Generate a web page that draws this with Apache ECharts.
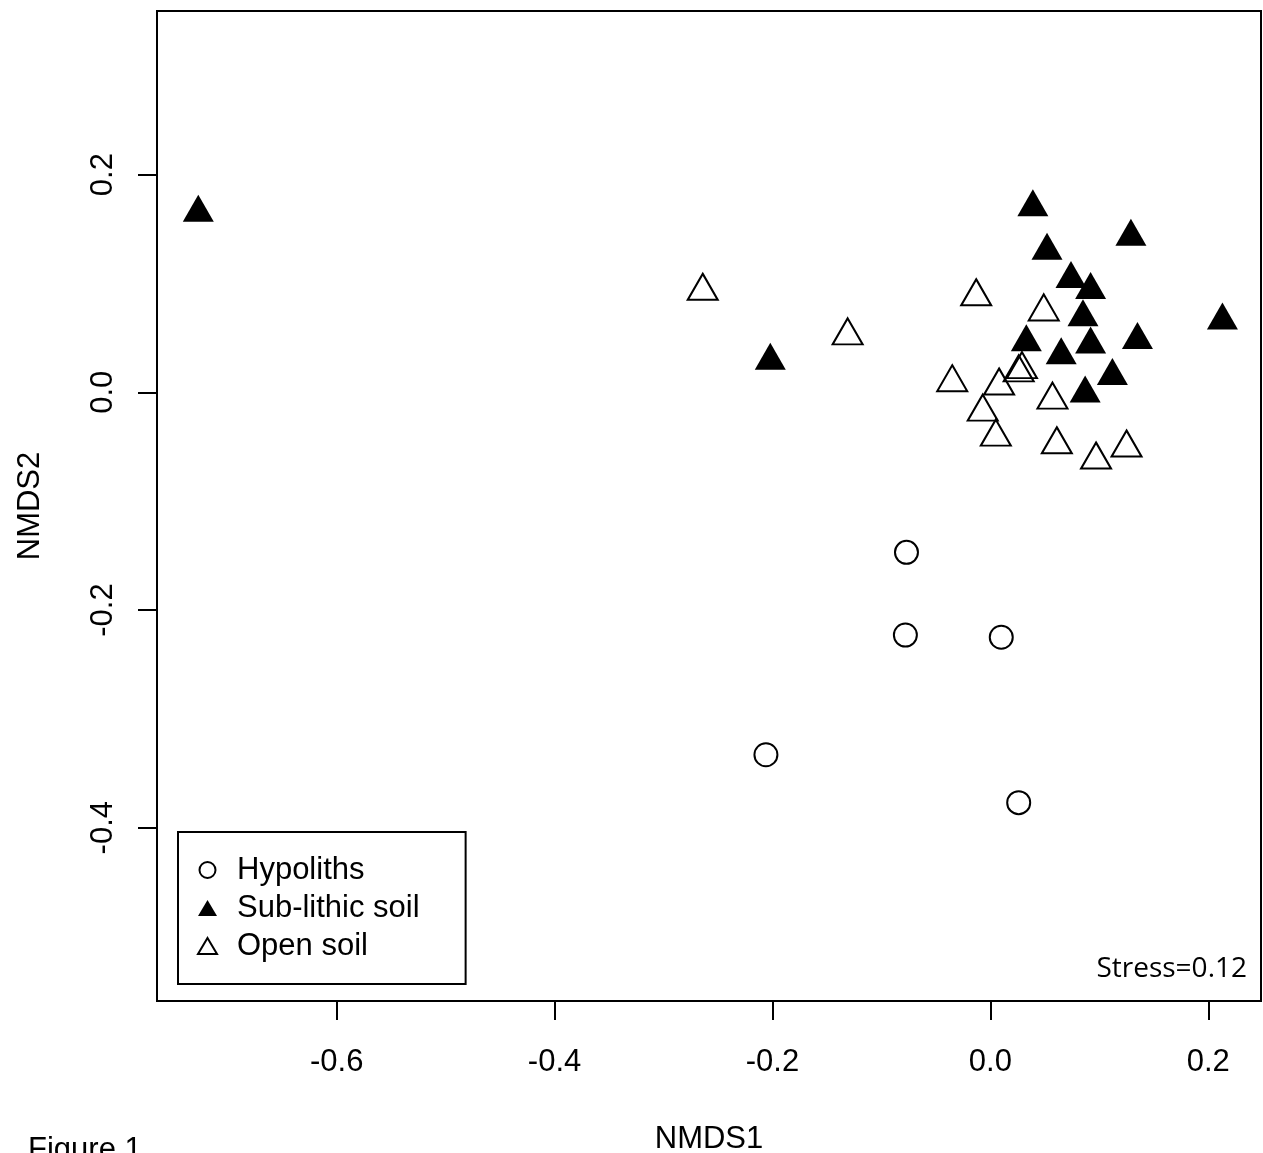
<!DOCTYPE html>
<html lang="en">
  <head>
    <meta charset="UTF-8" />
    <title>NMDS</title>
    <script src="https://cdn.jsdelivr.net/npm/echarts@6/dist/echarts.min.js"></script>
    <style>
      html, body { margin: 0; padding: 0; background: #fff; }
    </style>
  </head>
  <body>
    <div id="main" style="width: 1263px;height:1153px;"></div>
    <script type="text/javascript">
      // sample scores (NMDS1, NMDS2)
      var hypoX = [-0.077, -0.078, 0.010, -0.206, 0.026];
      var hypoY = [-0.147, -0.223, -0.225, -0.333, -0.377];

      var subX = [-0.727, -0.202, 0.039, 0.129, 0.052, 0.074, 0.092, 0.213, 0.085, 0.033, 0.092, 0.135, 0.065, 0.112, 0.087];
      var subY = [0.165, 0.029, 0.170, 0.143, 0.130, 0.104, 0.094, 0.066, 0.069, 0.046, 0.044, 0.048, 0.034, 0.015, -0.001];

      var openX = [-0.264, -0.131, -0.013, 0.049, -0.035, 0.008, 0.029, 0.026, 0.057, -0.007, 0.005, 0.061, 0.097, 0.125];
      var openY = [0.093, 0.052, 0.088, 0.074, 0.009, 0.006, 0.021, 0.018, -0.007, -0.018, -0.041, -0.048, -0.062, -0.051];

      var xTicks = [-0.6, -0.4, -0.2, 0.0, 0.2];
      var yTicks = [-0.4, -0.2, 0.0, 0.2];
      var groups = ["Hypoliths", "Sub-lithic soil", "Open soil"];

      function pairs(xs, ys) {
        return xs.map(function (x, i) { return [x, ys[i]]; });
      }

      var font = "Liberation Sans";
      var myChart = echarts.init(document.getElementById("main"));

      var option = {
        animation: false,
        backgroundColor: "#fff",
        grid: {
          left: 157, top: 11, width: 1104, height: 990,
          outerBoundsMode: "none", containLabel: false,
          show: true, borderColor: "#000", borderWidth: 2, backgroundColor: "transparent"
        },
        xAxis: {
          type: "value",
          min: -0.7649, max: 0.2484,
          name: "NMDS1", nameLocation: "middle", nameGap: 123,
          nameTextStyle: { fontFamily: font, fontSize: 31, color: "#000" },
          axisLine: { show: false, onZero: false },
          splitLine: { show: false },
          axisTick: { show: true, customValues: xTicks, length: 19, lineStyle: { color: "#000", width: 2 } },
          axisLabel: {
            customValues: xTicks, margin: 46,
            fontFamily: font, fontSize: 31, color: "#000",
            formatter: function (v) { return v.toFixed(1); }
          }
        },
        yAxis: {
          type: "value",
          min: -0.5592, max: 0.3503,
          name: "NMDS2", nameLocation: "middle", nameGap: 111, nameRotate: 90,
          nameTextStyle: { fontFamily: font, fontSize: 31, color: "#000" },
          axisLine: { show: false, onZero: false },
          splitLine: { show: false },
          axisTick: { show: true, customValues: yTicks, length: 19, lineStyle: { color: "#000", width: 2 } },
          axisLabel: {
            customValues: yTicks, margin: 38, rotate: 90,
            fontFamily: font, fontSize: 31, color: "#000",
            formatter: function (v) { return v.toFixed(1); }
          }
        },
        legend: {
          orient: "vertical",
          left: 178, top: 832,
          padding: [19, 46, 19, 19],
          itemGap: 0,
          itemWidth: 19, itemHeight: 16,
          selectedMode: false,
          borderColor: "#000", borderWidth: 2, backgroundColor: "#fff",
          textStyle: { fontFamily: font, fontSize: 31, color: "#000", lineHeight: 38, padding: [0, 0, 0, 15] },
          data: [
            { name: groups[0], icon: "circle", itemStyle: { color: "rgba(0,0,0,0)", borderColor: "#000", borderWidth: 2 } },
            { name: groups[1], icon: "triangle", itemStyle: { color: "#000", borderWidth: 0 } },
            { name: groups[2], icon: "triangle", itemStyle: { color: "rgba(0,0,0,0)", borderColor: "#000", borderWidth: 2 } }
          ]
        },
        graphic: [
          {
            type: "text", x: 1247, y: 969,
            style: { text: "Stress=0.12", fontFamily: "Open Sans", fontSize: 28, fill: "#000", align: "right", verticalAlign: "middle" }
          },
          {
            type: "text", x: 28, y: 1135,
            style: { text: "Figure 1", fontFamily: font, fontSize: 31, fill: "#000", align: "left", verticalAlign: "top" }
          }
        ],
        series: [
          {
            name: groups[0], type: "scatter",
            data: pairs(hypoX, hypoY),
            symbol: "circle", symbolSize: 23,
            itemStyle: { color: "rgba(0,0,0,0)", borderColor: "#000", borderWidth: 2, opacity: 1 }
          },
          {
            name: groups[1], type: "scatter",
            data: pairs(subX, subY),
            symbol: "triangle", symbolSize: [31, 27], symbolOffset: [0, -4.5],
            itemStyle: { color: "#000", opacity: 1 }
          },
          {
            name: groups[2], type: "scatter",
            data: pairs(openX, openY),
            symbol: "triangle", symbolSize: [30, 26], symbolOffset: [0, -4.3],
            itemStyle: { color: "rgba(0,0,0,0)", borderColor: "#000", borderWidth: 2, opacity: 1 }
          }
        ]
      };

      myChart.setOption(option);
    </script>
  </body>
</html>
